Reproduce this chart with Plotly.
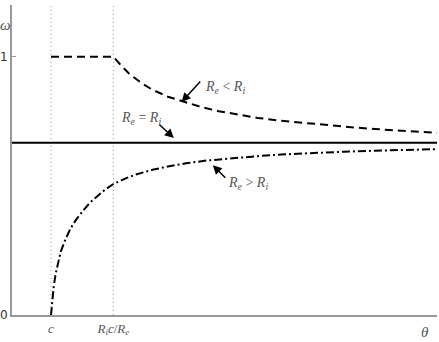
import plotly.graph_objects as go

# theta positions (c = 1, Ri c / Re = 2.6)
c_val = 1.0
ric_re = 2.6
x_max = 10.9

# Re < Ri : flat at 1, then decaying
lt_x = [1.0, 2.6, 2.8, 3.0, 3.3, 3.6, 4.0, 4.4, 4.85, 5.3, 5.8, 6.3, 6.9, 7.5, 8.1, 8.7, 9.3, 9.8, 10.3, 10.9]
lt_y = [1.0, 1.0, 0.965, 0.935, 0.9, 0.872, 0.845, 0.825, 0.805, 0.789, 0.775, 0.763, 0.752, 0.743, 0.735, 0.727, 0.72, 0.715, 0.71, 0.705]

# Re = Ri : constant
eq_x = [0.0, 10.9]
eq_y = [0.667, 0.667]

# Re > Ri : rising from 0
gt_x = [1.0, 1.03, 1.07, 1.12, 1.18, 1.25, 1.35, 1.5, 1.65, 1.8, 2.0, 2.2, 2.4, 2.6, 2.9, 3.2, 3.6, 4.0, 4.5, 5.0, 5.6, 6.3, 7.0, 7.8, 8.5, 9.3, 10.1, 10.9]
gt_y = [0.0, 0.06, 0.11, 0.16, 0.2, 0.245, 0.285, 0.335, 0.37, 0.4, 0.435, 0.462, 0.487, 0.507, 0.528, 0.545, 0.562, 0.575, 0.588, 0.598, 0.607, 0.615, 0.622, 0.628, 0.632, 0.636, 0.639, 0.642]

y_ticks = [0, 1]
x_tick_labels = ["<i>c</i>", "<i>R<sub>i</sub>c</i>/<i>R<sub>e</sub></i>"]

serif = "Liberation Serif"
grey_txt = "#555555"

fig = go.Figure()
fig.add_trace(go.Scatter(x=lt_x, y=lt_y, mode="lines", line=dict(color="black", width=2, dash="8px,5px"), showlegend=False))
fig.add_trace(go.Scatter(x=eq_x, y=eq_y, mode="lines", line=dict(color="black", width=2), showlegend=False))
fig.add_trace(go.Scatter(x=gt_x, y=gt_y, mode="lines", line=dict(color="black", width=2, dash="8px,3px,2px,3px"), showlegend=False))

for xv in [c_val, ric_re]:
    fig.add_shape(type="line", x0=xv, x1=xv, y0=0, y1=1.2, xref="x", yref="y",
                  line=dict(color="#999999", width=1, dash="1px,3px"), layer="below")

fig.update_layout(
    width=439, height=342,
    margin=dict(l=12, r=2, t=5, b=27),
    plot_bgcolor="white", paper_bgcolor="white",
    xaxis=dict(range=[0, x_max], showgrid=False, zeroline=False, showline=True,
               linecolor="#999999", linewidth=2, automargin=False,
               tickmode="array", tickvals=[c_val, ric_re], ticktext=x_tick_labels,
               ticks="", tickfont=dict(family=serif, size=13, color=grey_txt)),
    yaxis=dict(range=[0, 1.2], showgrid=False, zeroline=False, showline=True,
               linecolor="#999999", linewidth=2, automargin=False,
               tickmode="array", tickvals=y_ticks, ticktext=["0", "1"],
               ticks="inside", ticklen=4, tickcolor="#999999",
               tickfont=dict(family="DejaVu Sans", size=12, color="#333333")),
)

ann_font = dict(family=serif, size=14, color=grey_txt)
fig.add_annotation(x=4.35, y=0.825, xref="x", yref="y", ax=20, ay=-22,
                   text="", showarrow=True, arrowhead=2, arrowsize=1.2, arrowwidth=1.5, arrowcolor="black")
fig.add_annotation(x=4.9, y=0.88, xref="x", yref="y", text="<i>R<sub>e</sub></i> &lt; <i>R<sub>i</sub></i>",
                   showarrow=False, font=ann_font, xanchor="left")
fig.add_annotation(x=4.15, y=0.685, xref="x", yref="y", ax=-16, ay=-15,
                   text="", showarrow=True, arrowhead=2, arrowsize=1.2, arrowwidth=1.5, arrowcolor="black")
fig.add_annotation(x=2.75, y=0.76, xref="x", yref="y", text="<i>R<sub>e</sub></i> = <i>R<sub>i</sub></i>",
                   showarrow=False, font=ann_font, xanchor="left")
fig.add_annotation(x=5.15, y=0.58, xref="x", yref="y", ax=14, ay=14,
                   text="", showarrow=True, arrowhead=2, arrowsize=1.2, arrowwidth=1.5, arrowcolor="black")
fig.add_annotation(x=5.5, y=0.51, xref="x", yref="y", text="<i>R<sub>e</sub></i> &gt; <i>R<sub>i</sub></i>",
                   showarrow=False, font=ann_font, xanchor="left")

fig.add_annotation(x=-0.015, y=0.968, xref="paper", yref="paper", text="<i>ω</i>", showarrow=False,
                   font=dict(family=serif, size=15, color=grey_txt), xanchor="center")
fig.add_annotation(x=10.6, y=0, xref="x", yref="y", yshift=-17, text="<i>θ</i>", showarrow=False,
                   font=dict(family=serif, size=15, color=grey_txt))

fig.write_html("out.html")
